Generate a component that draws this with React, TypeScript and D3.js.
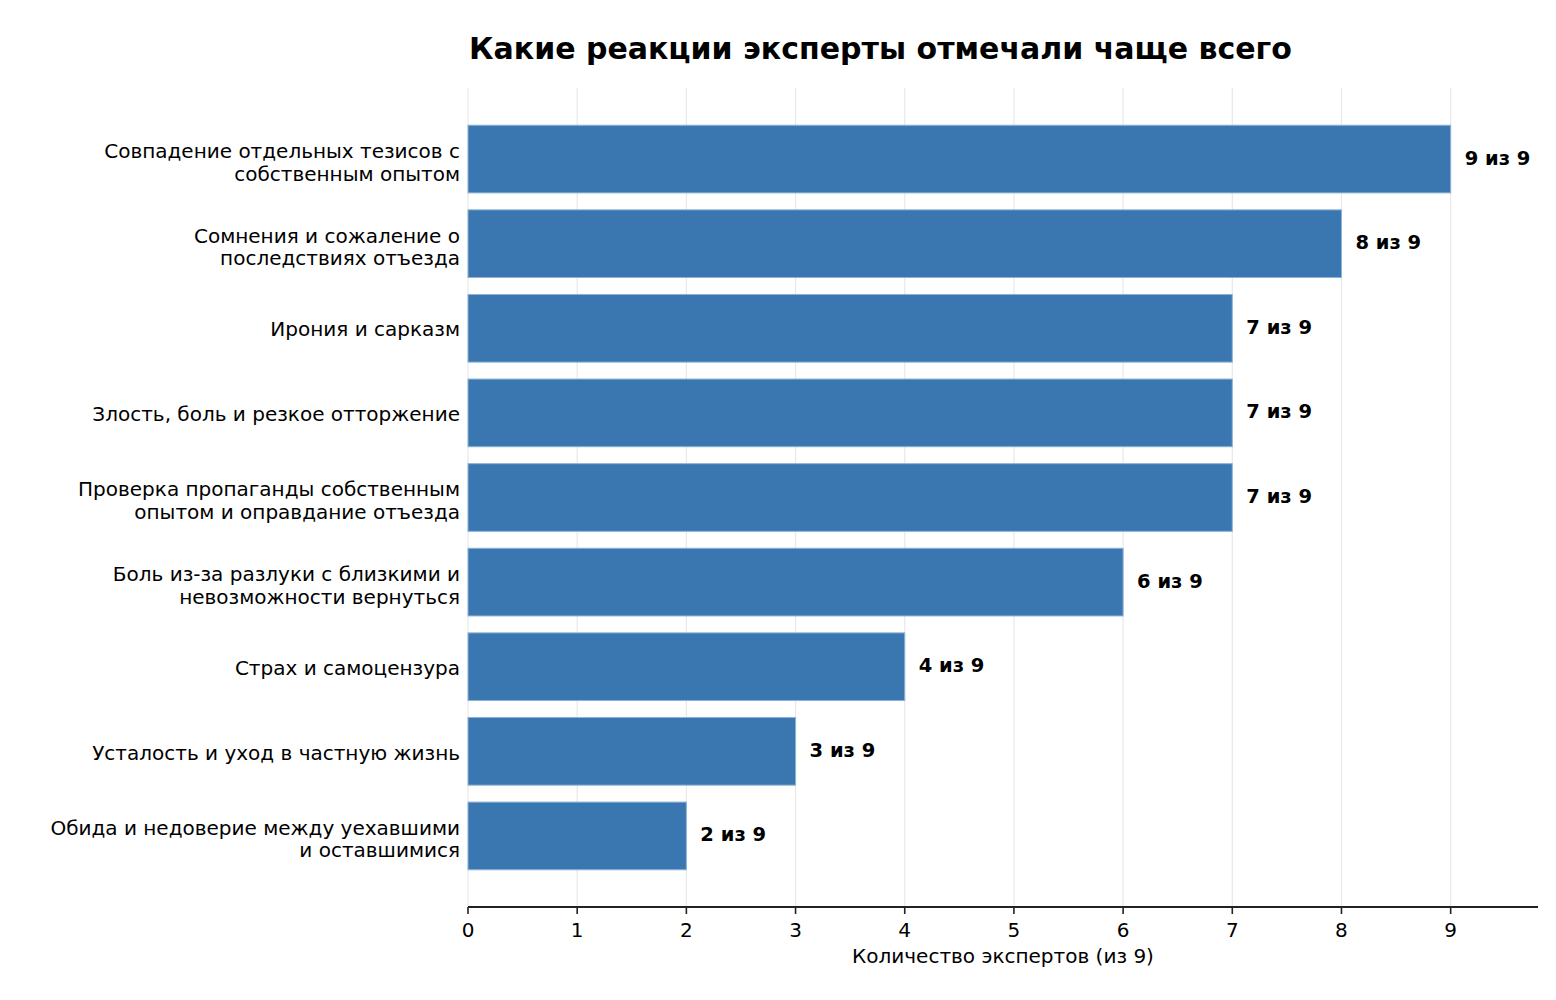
import { useEffect, useRef } from 'react'
import * as d3 from 'd3'

const categories = [
  'Совпадение отдельных тезисов с\nсобственным опытом',
  'Сомнения и сожаление о\nпоследствиях отъезда',
  'Ирония и сарказм',
  'Злость, боль и резкое отторжение',
  'Проверка пропаганды собственным\nопытом и оправдание отъезда',
  'Боль из-за разлуки с близкими и\nневозможности вернуться',
  'Страх и самоцензура',
  'Усталость и уход в частную жизнь',
  'Обида и недоверие между уехавшими\nи оставшимися',
]
const counts = [9, 8, 7, 7, 7, 6, 4, 3, 2]
const total = 9
const xTicks = [0, 1, 2, 3, 4, 5, 6, 7, 8, 9]

const title = 'Какие реакции эксперты отмечали чаще всего'
const xLabel = 'Количество экспертов (из 9)'

const WIDTH = 1556
const HEIGHT = 1000
const FONT = '"DejaVu Sans", sans-serif'

export default function App() {
  const svgRef = useRef<SVGSVGElement>(null)

  useEffect(() => {
    if (!svgRef.current) return
    const svg = d3.select(svgRef.current)
    svg.selectAll('*').remove()

    const left = 468
    const right = 1538
    const top = 88
    const bottom = 907

    const x = d3.scaleLinear().domain([0, 9.8]).range([left, right])
    const y = d3.scaleLinear().domain([-0.84, 8.84]).range([top, bottom])
    const barH = y(0.4) - y(-0.4)

    svg.append('rect').attr('width', WIDTH).attr('height', HEIGHT).attr('fill', 'white')

    // vertical grid
    svg.append('g')
      .selectAll('line')
      .data(xTicks)
      .enter().append('line')
      .attr('x1', d => x(d)).attr('x2', d => x(d))
      .attr('y1', top).attr('y2', bottom)
      .attr('stroke', '#e8e8e8')
      .attr('stroke-width', 1.2)

    // bars
    svg.append('g')
      .selectAll('rect')
      .data(counts)
      .enter().append('rect')
      .attr('x', x(0))
      .attr('y', (d, i) => y(i) - barH / 2)
      .attr('width', d => x(d) - x(0))
      .attr('height', barH)
      .attr('fill', '#3a77b0')
      .attr('stroke', '#8fb3d6')
      .attr('stroke-width', 1)

    // value labels
    svg.append('g')
      .selectAll('text')
      .data(counts)
      .enter().append('text')
      .attr('x', d => x(d) + 14)
      .attr('y', (d, i) => y(i) - 1.5)
      .attr('dy', '0.36em')
      .style('font-family', FONT)
      .style('font-size', '19.5px')
      .style('font-weight', 'bold')
      .style('fill', 'black')
      .text(d => `${d} из ${total}`)

    // category labels
    const lineH = 22.6
    const labels = svg.append('g')
      .selectAll('text')
      .data(categories)
      .enter().append('text')
      .attr('text-anchor', 'end')
      .style('font-family', FONT)
      .style('font-size', '20px')
      .style('fill', 'black')
    labels.each(function (d, i) {
      const lines = d.split('\n')
      const t = d3.select(this)
      const shift = lines.length > 1 ? 3 : 1
      const start = y(i) + shift - ((lines.length - 1) * lineH) / 2
      lines.forEach((ln, k) => {
        t.append('tspan')
          .attr('x', left - 8)
          .attr('y', start + k * lineH)
          .attr('dy', '0.36em')
          .text(ln)
      })
    })

    // bottom axis
    const axis = svg.append('g')
    axis.append('line')
      .attr('x1', left).attr('x2', right)
      .attr('y1', bottom).attr('y2', bottom)
      .attr('stroke', '#222')
      .attr('stroke-width', 1.8)
    axis.selectAll('.tick')
      .data(xTicks)
      .enter().append('line')
      .attr('x1', d => x(d)).attr('x2', d => x(d))
      .attr('y1', bottom).attr('y2', bottom + 7)
      .attr('stroke', '#222')
      .attr('stroke-width', 1.6)
    axis.selectAll('text')
      .data(xTicks)
      .enter().append('text')
      .attr('x', d => x(d))
      .attr('y', bottom + 29.5)
      .attr('text-anchor', 'middle')
      .style('font-family', FONT)
      .style('font-size', '20px')
      .style('fill', 'black')
      .text(d => d)

    svg.append('text')
      .attr('x', (left + right) / 2)
      .attr('y', 963)
      .attr('text-anchor', 'middle')
      .style('font-family', FONT)
      .style('font-size', '20px')
      .style('fill', 'black')
      .text(xLabel)

    svg.append('text')
      .attr('x', left + 1)
      .attr('y', 59)
      .style('font-family', FONT)
      .style('font-size', '30px')
      .style('font-weight', 'bold')
      .style('fill', 'black')
      .text(title)
  }, [])

  return (
    <svg
      ref={svgRef}
      width={WIDTH}
      height={HEIGHT}
      style={{ position: 'absolute', left: 0, top: 0 }}
    />
  )
}
